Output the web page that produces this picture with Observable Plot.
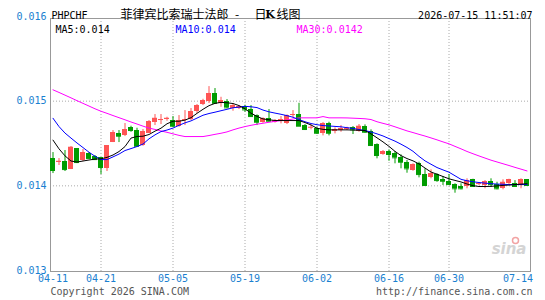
<!DOCTYPE html>
<html><head><meta charset="utf-8">
<script src="https://cdn.jsdelivr.net/npm/d3@7"></script>
<script src="https://cdn.jsdelivr.net/npm/@observablehq/plot@0.6"></script>
<style>body{margin:0;background:#fff} svg rect{shape-rendering:crispEdges}</style>
</head><body><div id="chart"></div>
<script>
const dates = ["2026-04-11","2026-04-13","2026-04-14","2026-04-15","2026-04-16","2026-04-17","2026-04-18","2026-04-20","2026-04-21","2026-04-22",
"2026-04-23","2026-04-24","2026-04-25","2026-04-27","2026-04-28","2026-04-29","2026-04-30","2026-05-01","2026-05-02","2026-05-04",
"2026-05-05","2026-05-06","2026-05-07","2026-05-08","2026-05-09","2026-05-11","2026-05-12","2026-05-13","2026-05-14","2026-05-15",
"2026-05-16","2026-05-18","2026-05-19","2026-05-20","2026-05-21","2026-05-22","2026-05-23","2026-05-25","2026-05-26","2026-05-27",
"2026-05-28","2026-05-29","2026-05-30","2026-06-01","2026-06-02","2026-06-03","2026-06-04","2026-06-05","2026-06-06","2026-06-08",
"2026-06-09","2026-06-10","2026-06-11","2026-06-12","2026-06-13","2026-06-15","2026-06-16","2026-06-17","2026-06-18","2026-06-19",
"2026-06-22","2026-06-23","2026-06-24","2026-06-25","2026-06-26","2026-06-29","2026-06-30","2026-07-01","2026-07-02","2026-07-03",
"2026-07-04","2026-07-06","2026-07-07","2026-07-08","2026-07-09","2026-07-10","2026-07-11","2026-07-13","2026-07-14","2026-07-15"];

const opens = [.014322,.014279,.014287,.014192,.014440,.014299,.014381,.014346,.014334,.014204,
.014511,.014621,.014594,.014692,.014653,.014476,.014621,.014744,.014771,.014779,
.014771,.014704,.014771,.014783,.014877,.014960,.014999,.015090,.014975,.014999,
.014909,.014909,.014936,.014897,.014830,.014751,.014798,.014751,.014763,.014739,
.014834,.014842,.014712,.014685,.014673,.014621,.014739,.014645,.014653,.014668,
.014685,.014645,.014704,.014645,.014488,.014370,.014408,.014385,.014338,.014279,
.014181,.014267,.014133,.014094,.014130,.014078,.014051,.014015,.013992,.013992,
.014071,.014015,.014004,.014051,.014015,.013965,.014031,.014024,.014004,.014071];

const closes = [.014181,.014290,.014192,.014456,.014275,.014393,.014322,.014310,.014216,.014476,
.014629,.014586,.014665,.014653,.014467,.014641,.014759,.014798,.014783,.014798,
.014704,.014771,.014783,.014877,.014948,.015007,.015090,.014975,.015007,.014921,
.014948,.014936,.014897,.014818,.014751,.014791,.014763,.014771,.014779,.014830,
.014842,.014704,.014665,.014692,.014621,.014732,.014621,.014661,.014673,.014682,
.014661,.014704,.014633,.014476,.014358,.014405,.014370,.014331,.014279,.014201,
.014251,.014133,.014004,.014142,.014062,.014054,.014015,.013965,.013965,.014062,
.013992,.014027,.014051,.014015,.013965,.014042,.014071,.013992,.014071,.014004];

const highs = [.014393,.014322,.014417,.014464,.014440,.014429,.014393,.014358,.014334,.014476,
.014653,.014653,.014736,.014704,.014680,.014665,.014771,.014842,.014842,.014810,
.014818,.014830,.014889,.014913,.014960,.015022,.015172,.015149,.015046,.015019,
.014972,.014948,.014952,.014948,.014838,.014803,.014901,.014783,.014818,.014838,
.014889,.014975,.014724,.014720,.014692,.014747,.014751,.014685,.014712,.014692,
.014700,.014724,.014720,.014661,.014496,.014417,.014425,.014405,.014366,.014299,
.014260,.014279,.014201,.014189,.014142,.014110,.014133,.014024,.014024,.014083,
.014078,.014039,.014062,.014083,.014042,.014071,.014078,.014062,.014083,.014074];

const lows = [.014145,.014240,.014169,.014192,.014263,.014287,.014322,.014299,.014133,.014169,
.014511,.014511,.014582,.014633,.014464,.014467,.014617,.014712,.014724,.014763,
.014692,.014692,.014712,.014771,.014854,.014948,.014972,.014972,.014928,.014913,
.014881,.014901,.014869,.014810,.014712,.014739,.014751,.014741,.014732,.014724,
.014803,.014700,.014653,.014661,.014606,.014590,.014590,.014614,.014633,.014653,
.014606,.014633,.014621,.014467,.014319,.014361,.014290,.014260,.014201,.014149,
.014172,.014094,.013992,.014083,.014042,.014004,.014004,.013913,.013953,.013965,
.013983,.014004,.013965,.013983,.013953,.013953,.014015,.013983,.013965,.013992];

const ma5 = [.014540,.014437,.014354,.014293,.014281,.014293,.014305,.014316,.014319,.014336,
.014364,.014405,.014464,.014564,.014583,.014586,.014606,.014646,.014681,.014733,
.014763,.014763,.014776,.014805,.014856,.014904,.014947,.014974,.014986,.014981,
.014972,.014948,.014910,.014858,.014820,.014790,.014780,.014772,.014771,.014771,
.014771,.014771,.014747,.014719,.014680,.014667,.014661,.014661,.014661,.014661,
.014659,.014656,.014653,.014614,.014567,.014519,.014466,.014407,.014357,.014322,
.014295,.014259,.014210,.014163,.014137,.014110,.014083,.014064,.014046,.014022,
.014002,.013992,.013992,.013994,.013999,.014005,.014009,.014015,.014020,.014025];

const ma10 = [.014798,.014700,.014623,.014564,.014506,.014452,.014397,.014349,.014310,.014310,
.014342,.014375,.014417,.014440,.014464,.014493,.014555,.014602,.014641,.014659,
.014682,.014715,.014744,.014767,.014800,.014834,.014854,.014870,.014887,.014904,
.014922,.014930,.014939,.014934,.014924,.014895,.014874,.014859,.014845,.014829,
.014810,.014783,.014757,.014736,.014722,.014712,.014707,.014702,.014697,.014687,
.014678,.014665,.014653,.014636,.014614,.014589,.014558,.014528,.014492,.014453,
.014408,.014348,.014295,.014255,.014216,.014188,.014161,.014119,.014077,.014060,
.014048,.014039,.014032,.014025,.014021,.014018,.014015,.014015,.014015,.014015];

const ma30 = [.015134,.015103,.015071,.015039,.015006,.014974,.014942,.014910,.014881,.014856,
.014830,.014805,.014780,.014754,.014730,.014705,.014682,.014666,.014648,.014632,
.014614,.014596,.014582,.014582,.014582,.014582,.014594,.014608,.014621,.014637,
.014661,.014682,.014700,.014715,.014728,.014739,.014751,.014761,.014771,.014778,
.014789,.014803,.014803,.014803,.014803,.014818,.014803,.014803,.014803,.014802,
.014799,.014796,.014792,.014783,.014757,.014738,.014720,.014697,.014673,.014649,
.014629,.014608,.014588,.014566,.014543,.014519,.014496,.014466,.014437,.014406,
.014379,.014353,.014328,.014303,.014282,.014261,.014240,.014218,.014197,.014176];

const yTicks = [0.013, 0.014, 0.015, 0.016];
const yGrid = [0.014, 0.015];
const xTickDates = ["2026-04-11","2026-04-21","2026-05-05","2026-05-19","2026-06-02","2026-06-16","2026-06-30"];
const xGridDates = ["2026-04-21","2026-05-05","2026-05-19","2026-06-02","2026-06-16","2026-06-30"];
const lastTickDate = "2026-07-14";
const symbol = "PHPCHF";
const titleName = "菲律宾比索瑞士法郎";
const titleDash = "-";
const titleDay = "日";
const titleK = "K";
const titleRest = "线图";
const stamp = "2026-07-15 11:51:07";
const legend = ["MA5:0.014", "MA10:0.014", "MA30:0.0142"];
const footerLeft = "Copyright 2026 SINA.COM";
const footerRight = "http://finance.sina.com.cn";

const rows = dates.map((d, i) => ({date: d, open: opens[i], close: closes[i], high: highs[i], low: lows[i], ma5: ma5[i], ma10: ma10[i], ma30: ma30[i]}));
const up = rows.filter(r => r.close >= r.open);
const down = rows.filter(r => r.close < r.open);

const RED = "#ff5555", GREEN = "#009c00", BLUE = "#1a80d0", GRID = "#aaaaaa";
const MONO = "'DejaVu Sans Mono', monospace";
const CJK = "'Noto Sans CJK SC', sans-serif";

const chart = Plot.plot({
  width: 545, height: 300,
  marginLeft: 50, marginRight: 15, marginTop: 18, marginBottom: 29,
  style: {fontFamily: MONO, fontSize: "10px", background: "#fff", overflow: "visible"},
  x: {type: "band", domain: dates, range: [49, 529], paddingInner: 0.2, paddingOuter: 0.1, axis: null},
  y: {domain: [0.013, 0.016], range: [270, 16], axis: null},
  marks: [
    Plot.ruleY(yGrid, {stroke: GRID, strokeDasharray: "1,2"}),
    Plot.ruleX(xGridDates, {x: d => d, stroke: GRID, strokeDasharray: "1,2"}),
    Plot.frame({stroke: "#999"}),
    // sina watermark
    Plot.text(["sina"], {frameAnchor: "bottom-right", dx: -4, dy: -18, fill: "#d4d4d4", fontSize: 15, fontWeight: "bold", fontStyle: "italic", fontFamily: "'DejaVu Sans', sans-serif", textAnchor: "end"}),
    Plot.dot([0], {frameAnchor: "bottom-right", dx: -15, dy: -31, r: 3, stroke: "#f2a3a3", strokeWidth: 1.5, fill: "none"}),
    // candles
    Plot.ruleX(up, {x: "date", y1: "low", y2: "high", stroke: RED}),
    Plot.ruleX(down, {x: "date", y1: "low", y2: "high", stroke: GREEN}),
    Plot.barY(up, {x: "date", y1: "open", y2: "close", fill: RED}),
    Plot.barY(down, {x: "date", y1: "open", y2: "close", fill: GREEN}),
    Plot.tickY(up, {x: "date", y: "close", stroke: RED}),
    Plot.tickY(down, {x: "date", y: "close", stroke: GREEN}),
    // moving averages
    Plot.line(rows, {x: "date", y: "ma30", stroke: "#ff00ff", strokeWidth: 1}),
    Plot.line(rows, {x: "date", y: "ma10", stroke: "#0000ff", strokeWidth: 1}),
    Plot.line(rows, {x: "date", y: "ma5", stroke: "#000000", strokeWidth: 1}),
    // legend row
    Plot.text([legend[0]], {frameAnchor: "top-left", dx: 5, dy: 7, textAnchor: "start", fill: "#000"}),
    Plot.text([legend[1]], {frameAnchor: "top-left", dx: 125, dy: 7, textAnchor: "start", fill: "#0000ff"}),
    Plot.text([legend[2]], {frameAnchor: "top-left", dx: 246, dy: 7, textAnchor: "start", fill: "#ff00ff"}),
    // y labels
    Plot.text(yTicks, {y: d => d, frameAnchor: "left", dx: -4, textAnchor: "end", text: d => d.toFixed(3), fill: BLUE}),
    // x labels
    Plot.text(xTickDates, {x: d => d, frameAnchor: "bottom", dy: 10, text: d => d.slice(5), fill: BLUE}),
    Plot.text([lastTickDate], {x: d => d, frameAnchor: "bottom", dy: 10, dx: -3, text: d => d.slice(5), fill: BLUE}),
    // header
    Plot.text([symbol], {frameAnchor: "top-left", dx: 1, dy: -7, textAnchor: "start", fill: "#000"}),
    Plot.text([titleName], {frameAnchor: "top-left", dx: 70, dy: -8, textAnchor: "start", fill: "#000", fontFamily: CJK, fontSize: 12}),
    Plot.text([titleDash], {frameAnchor: "top-left", dx: 186.5, dy: -8, textAnchor: "middle", fill: "#000", fontFamily: CJK, fontSize: 12}),
    Plot.text([titleDay], {frameAnchor: "top-left", dx: 204, dy: -8, textAnchor: "start", fill: "#000", fontFamily: CJK, fontSize: 12}),
    Plot.text([titleK], {frameAnchor: "top-left", dx: 219.5, dy: -8, textAnchor: "middle", fill: "#000", fontFamily: "'DejaVu Serif', serif", fontWeight: "bold", fontSize: 11}),
    Plot.text([titleRest], {frameAnchor: "top-left", dx: 226, dy: -8, textAnchor: "start", fill: "#000", fontFamily: CJK, fontSize: 12}),
    Plot.text([stamp], {frameAnchor: "top-right", dx: 2, dy: -7, textAnchor: "end", fill: "#000"}),
    // footer
    Plot.text([footerLeft], {frameAnchor: "bottom-left", dy: 23, textAnchor: "start", fill: "#555"}),
    Plot.text([footerRight], {frameAnchor: "bottom-right", dx: 2, dy: 23, textAnchor: "end", fill: "#555"})
  ]
});
document.getElementById("chart").appendChild(chart);
</script></body></html>
